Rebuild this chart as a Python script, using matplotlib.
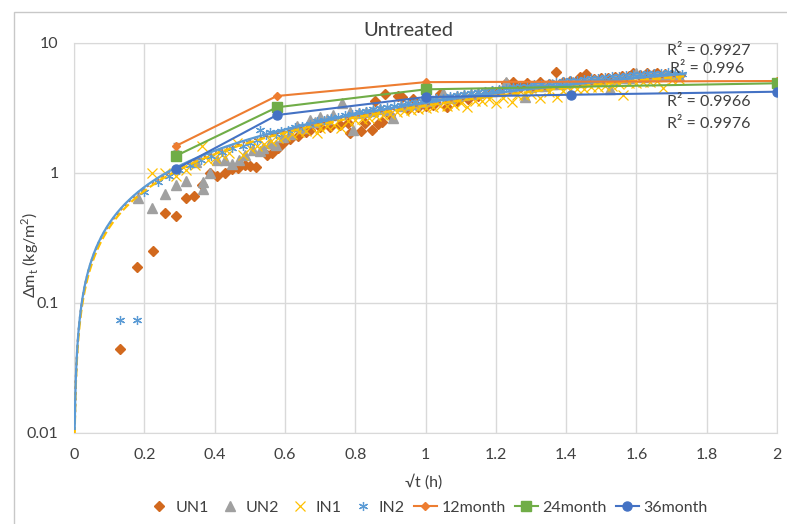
import numpy as np
import matplotlib
matplotlib.use("Agg")
import matplotlib.pyplot as plt
from matplotlib.patches import Rectangle

plt.rcParams['font.family'] = ['Lato', 'DejaVu Sans']

# measured uptake, sqrt(t) in sqrt(h) vs delta m in kg/m2
un1_x = [0.13, 0.18, 0.224, 0.259, 0.29, 0.318, 0.342, 0.365, 0.387, 0.408, 0.429, 0.45, 0.466,
         0.486, 0.50, 0.518, 0.548, 0.562, 0.581, 0.595, 0.614, 0.638, 0.66, 0.671, 0.70, 0.728,
         0.757, 0.78, 0.785, 0.816, 0.828, 0.847, 0.856, 0.866, 0.875, 0.885, 0.90, 0.923, 0.932,
         0.95, 0.965, 0.98, 1.0, 1.02, 1.04, 1.06, 1.09, 1.12, 1.15, 1.18, 1.21, 1.23, 1.25, 1.27,
         1.29, 1.31, 1.326, 1.35, 1.371, 1.39, 1.41, 1.43, 1.44, 1.458, 1.48, 1.50, 1.52, 1.54,
         1.56, 1.58, 1.59, 1.61, 1.63, 1.65, 1.66, 1.68, 1.70, 1.72]
un1_y = [0.044, 0.19, 0.252, 0.49, 0.47, 0.64, 0.665, 0.81, 1.0, 0.95, 1.0, 1.07, 1.09,
         1.15, 1.13, 1.12, 1.38, 1.43, 1.57, 1.69, 1.82, 1.92, 2.05, 2.14, 2.27, 2.27,
         2.34, 2.41, 2.02, 2.1, 2.41, 2.14, 3.6, 2.38, 2.45, 4.03, 2.8, 3.9, 3.86,
         3.1, 3.69, 3.2, 3.3, 3.35, 4.03, 3.23, 3.55, 3.7, 3.9, 4.1, 4.3, 4.95, 5.04, 4.6,
         4.9, 4.7, 4.98, 4.85, 6.0, 5.0, 5.12, 5.1, 5.45, 5.77, 5.3, 5.4, 5.35, 5.5,
         5.6, 5.55, 5.84, 5.7, 5.9, 5.75, 5.9, 5.8, 5.7, 5.6]

un2_x = [0.183, 0.223, 0.259, 0.29, 0.318, 0.347, 0.366, 0.366, 0.387, 0.408, 0.429, 0.45, 0.47,
         0.486, 0.51, 0.529, 0.539, 0.558, 0.575, 0.595, 0.615, 0.634, 0.65, 0.671, 0.685, 0.70,
         0.72, 0.738, 0.762, 0.785, 0.795, 0.81, 0.83, 0.85, 0.87, 0.89, 0.908, 0.93, 0.95, 0.97,
         0.99, 1.01, 1.03, 1.05, 1.07, 1.09, 1.11, 1.13, 1.15, 1.17, 1.19, 1.21, 1.23, 1.25, 1.283,
         1.30, 1.32, 1.34, 1.36, 1.38, 1.40, 1.42, 1.44, 1.46, 1.48, 1.50, 1.525, 1.54, 1.56, 1.58,
         1.60, 1.62, 1.64, 1.66, 1.68, 1.70, 1.72]
un2_y = [0.64, 0.54, 0.69, 0.81, 0.87, 1.22, 0.75, 0.85, 1.0, 1.27, 1.27, 1.17, 1.25,
         1.38, 1.5, 1.47, 1.55, 1.69, 1.65, 1.9, 2.0, 2.3, 2.2, 2.56, 2.45, 2.7,
         2.6, 2.79, 3.43, 2.96, 2.14, 2.9, 2.95, 3.0, 3.1, 3.05, 2.63, 3.3, 3.35, 3.4,
         3.5, 3.55, 3.7, 4.1, 3.8, 3.9, 4.0, 4.05, 4.1, 4.2, 4.25, 4.3, 5.04, 4.4, 3.82,
         4.6, 4.65, 4.7, 4.8, 4.85, 4.9, 5.0, 5.0, 5.1, 5.15, 5.2, 4.45, 5.3, 5.35, 5.4,
         5.9, 5.5, 5.55, 5.6, 5.65, 5.7, 5.6]

in1_x = [0.223, 0.259, 0.29, 0.32, 0.345, 0.363, 0.38, 0.40, 0.42, 0.44, 0.463, 0.48, 0.50,
         0.52, 0.54, 0.56, 0.58, 0.60, 0.62, 0.64, 0.66, 0.69, 0.70, 0.72, 0.74, 0.76, 0.78,
         0.80, 0.82, 0.84, 0.86, 0.88, 0.90, 0.92, 0.94, 0.96, 0.98, 1.00, 1.02, 1.04, 1.06,
         1.08, 1.10, 1.117, 1.14, 1.16, 1.18, 1.20, 1.22, 1.245, 1.26, 1.28, 1.30, 1.326, 1.35,
         1.373, 1.39, 1.41, 1.43, 1.45, 1.47, 1.49, 1.51, 1.53, 1.55, 1.563, 1.58, 1.60, 1.62,
         1.64, 1.66, 1.677, 1.70, 1.72]
in1_y = [1.0, 1.0, 0.95, 1.05, 1.15, 1.61, 1.25, 1.3, 1.38, 1.42, 1.69, 1.38, 1.55,
         1.6, 1.68, 1.75, 1.85, 1.92, 2.0, 2.05, 2.1, 2.02, 2.2, 2.3, 2.35, 2.2, 2.5,
         2.55, 2.6, 2.65, 2.75, 2.8, 2.85, 2.95, 3.0, 3.05, 3.1, 3.15, 3.2, 3.25, 3.3,
         3.35, 3.45, 3.23, 3.55, 3.6, 3.7, 3.43, 3.8, 3.54, 3.95, 4.0, 4.05, 3.75, 4.2,
         3.86, 4.3, 4.35, 4.4, 4.45, 4.55, 4.6, 4.65, 4.7, 4.8, 3.97, 4.9, 4.95, 5.0,
         5.05, 5.1, 4.48, 5.2, 5.3]

in2_x = [0.13, 0.18, 0.20, 0.24, 0.27, 0.30, 0.33, 0.36, 0.39, 0.42, 0.45, 0.48, 0.50, 0.52,
         0.529, 0.545, 0.558, 0.575, 0.59, 0.61, 0.63, 0.65, 0.67, 0.69, 0.71, 0.73, 0.75, 0.77,
         0.79, 0.81, 0.83, 0.85, 0.87, 0.89, 0.91, 0.93, 0.95, 0.97, 0.99, 1.01, 1.03, 1.05,
         1.07, 1.09, 1.11, 1.13, 1.15, 1.17, 1.19, 1.21, 1.23, 1.25, 1.27, 1.29, 1.31, 1.33,
         1.35, 1.37, 1.39, 1.41, 1.43, 1.45, 1.47, 1.49, 1.51, 1.53, 1.55, 1.57, 1.59, 1.61,
         1.63, 1.65, 1.67, 1.69, 1.71, 1.73]
in2_y = [0.074, 0.074, 0.72, 0.85, 0.95, 1.05, 1.15, 1.25, 1.35, 1.45, 1.55, 1.62, 1.7, 1.8,
         2.14, 1.95, 2.08, 2.0, 2.1, 2.15, 2.25, 2.3, 2.4, 2.5, 2.55, 2.65, 2.7, 2.8,
         2.85, 2.95, 3.0, 3.1, 3.15, 3.2, 3.3, 3.35, 3.45, 3.5, 3.6, 3.65, 3.75, 3.8,
         3.9, 3.95, 4.05, 4.1, 4.2, 4.25, 4.35, 4.4, 4.5, 4.55, 4.65, 4.7, 4.8, 4.85,
         4.95, 5.0, 5.1, 5.15, 5.2, 5.3, 5.35, 5.4, 5.5, 5.55, 5.6, 5.65, 5.75, 5.8,
         5.85, 5.9, 5.9, 5.95, 5.9, 5.8]

# power trendlines y = a * x^b for each series
fit_names = ['UN1', 'UN2', 'IN1', 'IN2']
fit_a = [3.40, 3.45, 3.30, 3.48]
fit_b = [0.93, 0.93, 0.94, 0.93]
fit_r2 = ['0.9927', '0.996', '0.9966', '0.9976']

# aged samples
m12_x = [0.289, 0.577, 1.0, 2.0]
m12_y = [1.61, 3.91, 5.0, 5.1]
m12_err = [0.1, 0.0, 0.0, 0.0]
m24_x = [0.289, 0.577, 1.0, 2.0]
m24_y = [1.35, 3.2, 4.4, 4.9]
m36_x = [0.289, 0.577, 1.0, 1.414, 2.0]
m36_y = [1.07, 2.79, 3.84, 4.0, 4.22]

fig = plt.figure(figsize=(7.87, 5.24), dpi=100)
ax = fig.add_axes([74/787, 1-433/524, 703/787, 390/524])

fig.patches.append(Rectangle((14/787, -0.1), 1.0, 1.1-12/524, transform=fig.transFigure,
                             fill=False, edgecolor='#C8C8C8', lw=1.0))

ax.plot(un1_x, un1_y, 'D', color='#D2691E', ms=5, mec='#D2691E', label='UN1', zorder=3)
ax.plot(un2_x, un2_y, '^', color='#A0A0A0', ms=6.5, label='UN2', zorder=3)
ax.plot(in1_x, in1_y, 'x', color='#FFC000', ms=6.5, mew=0.9, label='IN1', zorder=3)
ax.plot(in2_x, in2_y, ls='none', marker=(6, 2, 0), color='#5B9BD5', ms=6.5, mew=0.9,
        label='IN2', zorder=3)

xt = np.concatenate([np.geomspace(0.002, 0.1, 120), np.linspace(0.1, 1.74, 200)])
fit_style = {'UN1': ('#D2691E', ':'), 'UN2': ('#A0A0A0', ':'),
             'IN1': ('#FFC000', '--'), 'IN2': ('#5B9BD5', '-')}
for name, a, b in zip(fit_names, fit_a, fit_b):
    c, ls = fit_style[name]
    ax.plot(xt, a * xt ** b, color=c, ls=ls, lw=1.6, zorder=4)

ax.errorbar(m12_x, m12_y, yerr=m12_err, fmt='none', ecolor='#A0A0A0', elinewidth=1,
            capsize=2, zorder=5)
ax.plot(m12_x, m12_y, color='#ED7D31', marker='D', ms=4.5, lw=1.5, label='12month', zorder=5)
ax.plot(m24_x, m24_y, color='#70AD47', marker='s', ms=6.5, lw=1.5, label='24month', zorder=5)
ax.plot(m36_x, m36_y, color='#4472C4', marker='o', ms=6.5, lw=1.5, label='36month', zorder=5)

ax.set_yscale('log')
ax.set_xlim(0, 2)
ax.set_ylim(0.01, 10)
ax.set_xticks(np.arange(0, 2.01, 0.2))
ax.set_xticklabels(['0', '0.2', '0.4', '0.6', '0.8', '1', '1.2', '1.4', '1.6', '1.8', '2'])
ax.set_yticks([0.01, 0.1, 1, 10])
ax.set_yticklabels(['0.01', '0.1', '1', '10'])
ax.yaxis.set_minor_locator(matplotlib.ticker.NullLocator())
ax.tick_params(length=0, labelsize=11.5, colors='#404040', pad=11)
ax.tick_params(axis='y', pad=11)
ax.grid(True, color='#D9D9D9', lw=1)
ax.set_axisbelow(True)
for s in ax.spines.values():
    s.set_color('#D9D9D9')

fig.text(408/787, 1-30/524, 'Untreated', ha='center', va='center', fontsize=14.5, color='#404040')
fig.text(424/787, 1-482/524, '√t (h)', ha='center', va='center', fontsize=11.5, color='#404040')
fig.text(30/787, 1-255/524, 'Δm$_\\mathregular{t}$ (kg/m$^\\mathregular{2}$)', rotation=90,
         ha='center', va='center', fontsize=11.5, color='#404040')

r2_pos = [(667, 51), (670, 69), (667, 102), (667, 124)]
for (px, py), r2 in zip(r2_pos, fit_r2):
    fig.text(px/787, 1-py/524, 'R² = ' + r2, ha='left', va='center', fontsize=11.5, color='#404040')

handles, labels = ax.get_legend_handles_labels()
leg = fig.legend(handles, labels, loc='center', bbox_to_anchor=(428/787, 1-508/524), ncol=7,
                 frameon=True, fontsize=11.5, handlelength=1.4, columnspacing=0.6,
                 handletextpad=0.3, borderpad=0.2, labelcolor='#404040')
leg.get_frame().set_edgecolor('none')
leg.get_frame().set_facecolor('white')

fig.savefig('out.png', dpi=100)
